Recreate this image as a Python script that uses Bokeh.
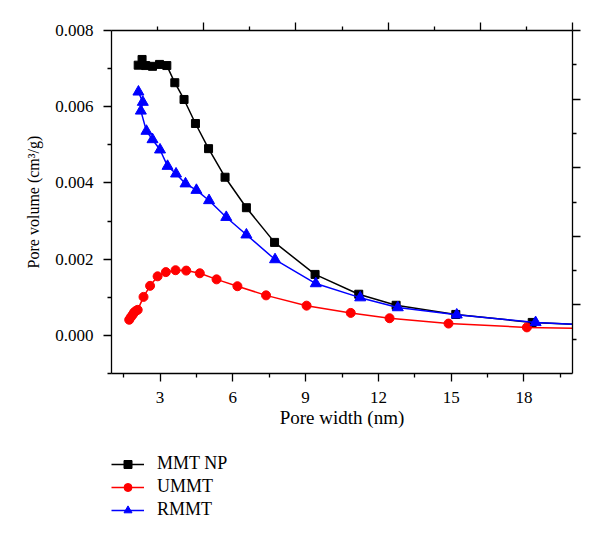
from bokeh.plotting import figure
from bokeh.layouts import column
from bokeh.models import (Range1d, LinearAxis, FixedTicker, Legend, LegendItem,
                          CustomJSTickFormatter)
from bokeh.embed import file_html
from bokeh.resources import INLINE

# ---- data ----
mmt_np_x = [2.10, 2.26, 2.41, 2.69, 2.98, 3.28, 3.61, 3.99, 4.46, 5.00, 5.68,
            6.56, 7.72, 9.39, 11.19, 12.73, 15.19, 18.34, 21.5]
mmt_np_y = [0.00709, 0.00724, 0.00708, 0.00706, 0.00711, 0.00708, 0.00663,
            0.00619, 0.00556, 0.00490, 0.00415, 0.00335, 0.00244, 0.00160,
            0.00108, 0.00079, 0.00055, 0.00034, 0.000245]

ummt_x = [1.73, 1.80, 1.87, 1.93, 2.00, 2.08, 2.32, 2.59, 2.90, 3.24, 3.64,
          4.08, 4.64, 5.33, 6.19, 7.37, 9.04, 10.86, 12.46, 14.89, 18.12, 21.5]
ummt_y = [0.00041, 0.00048, 0.00054, 0.00060, 0.00064, 0.00067, 0.00101,
          0.00130, 0.00155, 0.00166, 0.00171, 0.00170, 0.00163, 0.00147,
          0.00129, 0.00105, 0.00078, 0.00059, 0.00045, 0.00031, 0.00021,
          0.000175]

rmmt_x = [2.11, 2.29, 2.21, 2.44, 2.69, 3.00, 3.31, 3.66, 4.05, 4.50, 5.02,
          5.73, 6.56, 7.74, 9.42, 11.25, 12.80, 15.23, 18.48, 21.5]
rmmt_y = [0.00639, 0.00612, 0.00589, 0.00536, 0.00514, 0.00487, 0.00444,
          0.00424, 0.00398, 0.00381, 0.00354, 0.00310, 0.00264, 0.00199,
          0.00136, 0.00099, 0.00073, 0.00054, 0.00034, 0.000245]

series_names = ["MMT NP", "UMMT", "RMMT"]
x_ticks = [3, 6, 9, 12, 15, 18]
x_minor = [1.5, 4.5, 7.5, 10.5, 13.5, 16.5, 19.5]
y_ticks = [0.000, 0.002, 0.004, 0.006, 0.008]
y_minor = [-0.001, 0.001, 0.003, 0.005, 0.007]

X0, X1 = 1.0, 20.0
Y0, Y1 = -0.001, 0.008

FONT = "Liberation Serif"
W = 592

p = figure(width=W, height=440, output_backend="svg", toolbar_location=None,
           x_range=Range1d(X0, X1), y_range=Range1d(Y0, Y1),
           min_border_left=111, min_border_right=20, min_border_top=30,
           min_border_bottom=67)
p.outline_line_color = None
p.xgrid.visible = False
p.ygrid.visible = False
p.background_fill_color = "white"
p.border_fill_color = "white"

# bottom axis
xa = p.xaxis[0]
xa.ticker = FixedTicker(ticks=x_ticks, minor_ticks=x_minor)
xa.axis_label = "Pore width (nm)"
# left axis
ya = p.yaxis[0]
ya.ticker = FixedTicker(ticks=y_ticks, minor_ticks=y_minor)
ya.formatter = CustomJSTickFormatter(code="return tick.toFixed(3);")
ya.axis_label = "Pore volume (cm\u00b3/g)"

for ax in (xa, ya):
    ax.axis_line_width = 1.3
    ax.major_tick_line_width = 1.3
    ax.minor_tick_line_width = 1.3
    ax.major_tick_out = 8
    ax.major_tick_in = 0
    ax.minor_tick_out = 4
    ax.minor_tick_in = 0
    ax.major_label_text_font = FONT
    ax.major_label_text_font_size = "17px"
    ax.major_label_text_color = "black"
    ax.axis_label_text_font = FONT
    ax.axis_label_text_font_style = "normal"
    ax.axis_label_text_color = "black"

xa.axis_label_text_font_size = "19px"
ya.axis_label_text_font_size = "16px"
xa.major_label_standoff = 10
xa.axis_label_standoff = 1
ya.major_label_standoff = 10
ya.axis_label_standoff = 10

# top and right frame axes (unlabelled, ticks at tenths of the frame)
top_major = [X0 + (X1 - X0) * k / 10 for k in (2, 4, 6, 8, 10)]
top_minor = [X0 + (X1 - X0) * k / 10 for k in (1, 3, 5, 7, 9)]
right_major = [Y0 + (Y1 - Y0) * k / 10 for k in (2, 4, 6, 8, 10)]
right_minor = [Y0 + (Y1 - Y0) * k / 10 for k in (1, 3, 5, 7, 9)]

blank = CustomJSTickFormatter(code="return '';")
top = LinearAxis(ticker=FixedTicker(ticks=top_major, minor_ticks=top_minor),
                 formatter=blank)
right = LinearAxis(ticker=FixedTicker(ticks=right_major, minor_ticks=right_minor),
                   formatter=blank)
for ax in (top, right):
    ax.axis_line_width = 1.3
    ax.major_tick_line_width = 1.3
    ax.minor_tick_line_width = 1.3
    ax.major_tick_out = 8
    ax.major_tick_in = 0
    ax.minor_tick_out = 4
    ax.minor_tick_in = 0
    ax.major_label_text_font_size = "0px"
    ax.major_label_standoff = 0
p.add_layout(top, "above")
p.add_layout(right, "right")

# series
STYLES = [
    dict(color="black", marker="square", size=8),
    dict(color="#ff0000", marker="circle", size=9),
    dict(color="#0000ff", marker="triangle", size=11),
]
DATA = [(mmt_np_x, mmt_np_y), (ummt_x, ummt_y), (rmmt_x, rmmt_y)]


def draw(fig):
    out = []
    for (xs, ys), st in zip(DATA, STYLES):
        ln = fig.line(xs, ys, line_color=st["color"], line_width=1.5)
        sc = fig.scatter(xs, ys, marker=st["marker"], size=st["size"],
                         fill_color=st["color"], line_color=st["color"])
        out.append([ln, sc])
    return out


draw(p)

# legend panel below the chart (its own renderers lie outside its view)
q = figure(width=W, height=97, output_backend="svg", toolbar_location=None,
           x_range=Range1d(-100, -99), y_range=Range1d(-100, -99),
           x_axis_location=None, y_axis_location=None,
           min_border_left=0, min_border_right=0, min_border_top=0,
           min_border_bottom=0)
q.outline_line_color = None
q.xgrid.visible = False
q.ygrid.visible = False
q_renderers = draw(q)

legend = Legend(items=[
    LegendItem(label=name, renderers=rs)
    for name, rs in zip(series_names, q_renderers)
], location=(0, 17))
legend.border_line_color = None
legend.background_fill_alpha = 0
legend.padding = 0
legend.margin = 0
legend.spacing = 2
legend.glyph_width = 33
legend.glyph_height = 20
legend.label_height = 20
legend.label_standoff = 13
legend.label_text_font = FONT
legend.label_text_font_size = "18px"
legend.label_text_color = "black"
q.add_layout(legend, "center")

layout = column(p, q, spacing=0)
open("out.html", "w").write(file_html(layout, INLINE))
